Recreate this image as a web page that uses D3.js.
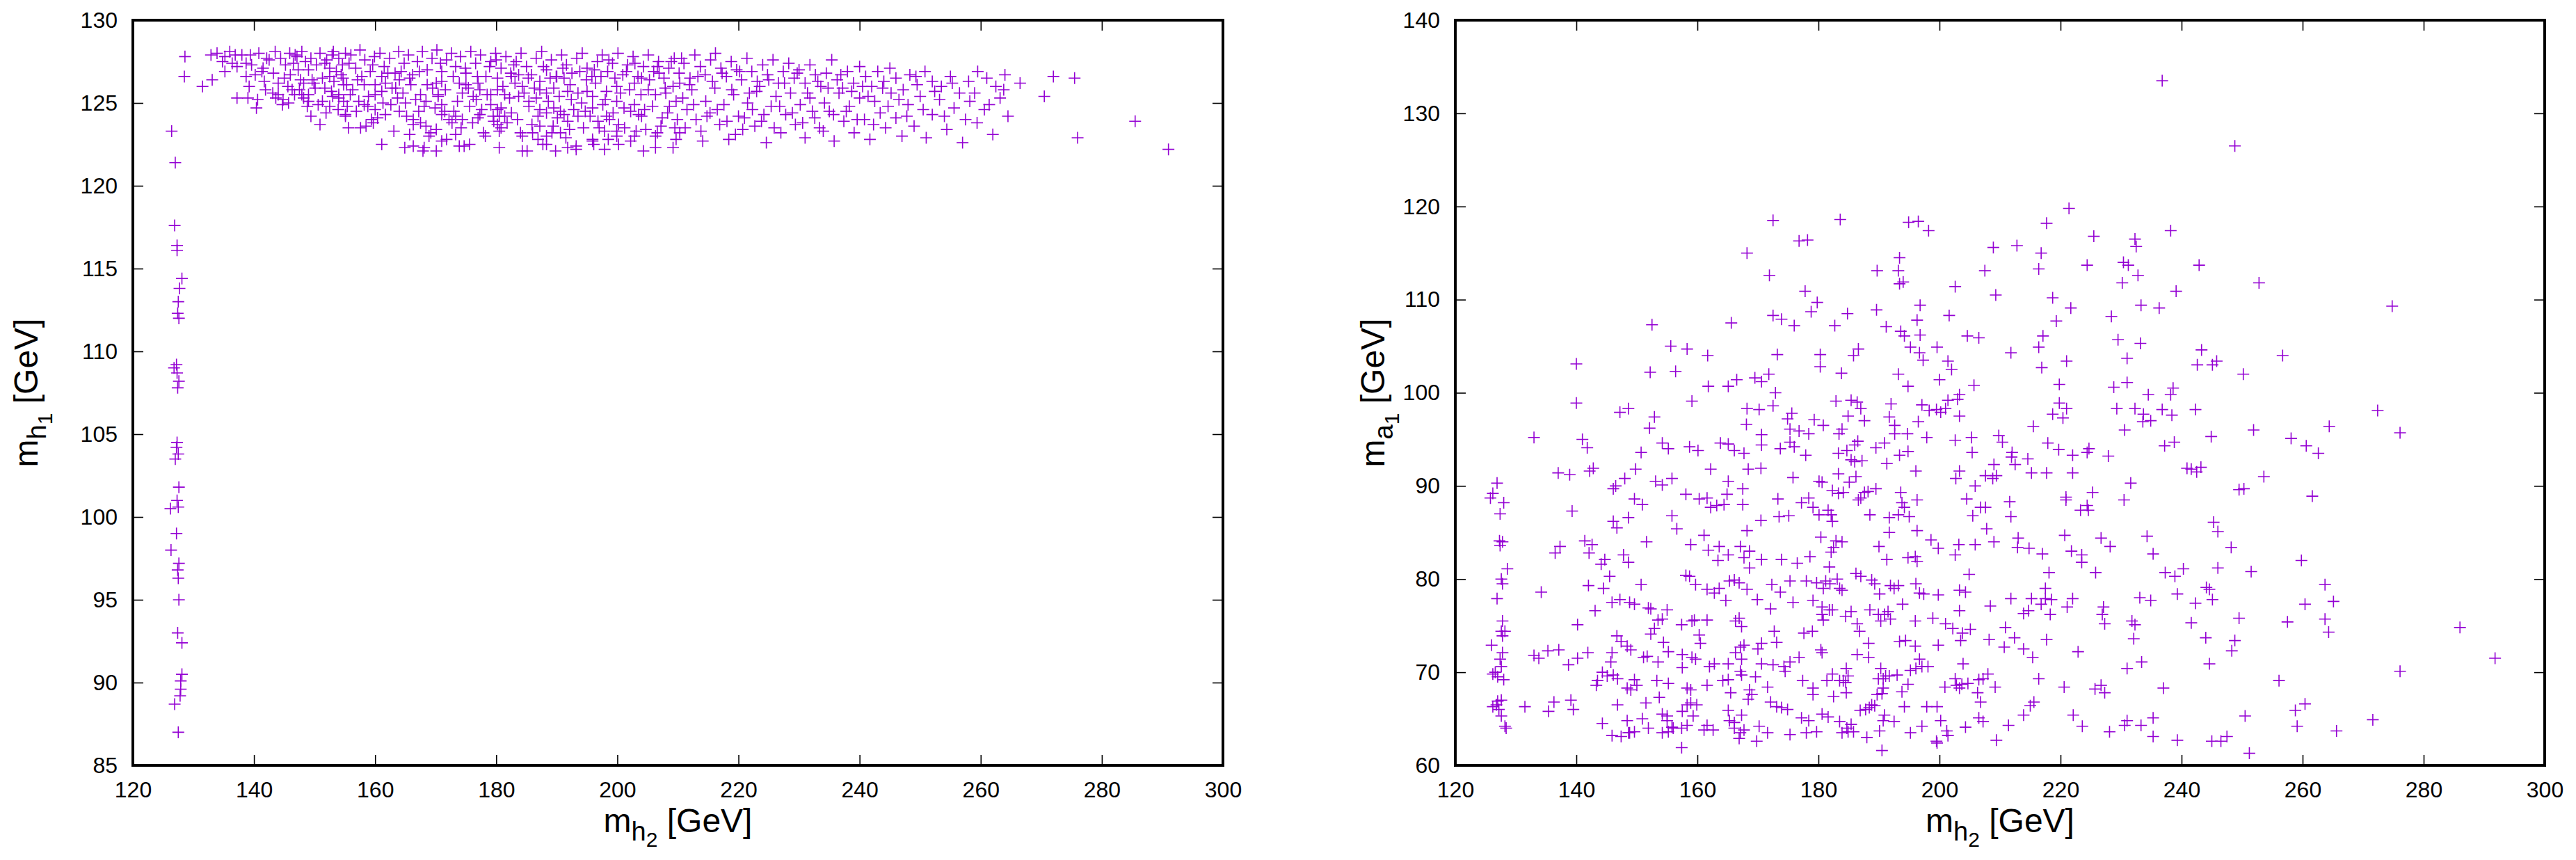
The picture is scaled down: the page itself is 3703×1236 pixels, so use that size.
<!DOCTYPE html>
<html>
<head>
<meta charset="utf-8">
<title>mh1 / ma1 vs mh2</title>
<script src="https://cdn.jsdelivr.net/npm/d3@7"></script>
<style>
body { margin: 0; background: #fff; }
svg text { font-family: "Liberation Sans", Arial, Helvetica, sans-serif; }
</style>
</head>
<body>
<script>
// ---- data ----
var xTicks = [120, 140, 160, 180, 200, 220, 240, 260, 280, 300];
var leftYTicks = [85, 90, 95, 100, 105, 110, 115, 120, 125, 130];
var rightYTicks = [60, 70, 80, 90, 100, 110, 120, 130, 140];

// left panel: m_h2 vs m_h1, the vertical strip near 127 GeV
var leftStrip = [[126.4,123.3],[127.0,121.4],[126.9,117.6],[127.3,116.4],[127.3,116.1],[128.1,114.4],[127.7,113.8],[127.5,113.0],[127.4,112.3],[127.6,112.0],[127.2,109.2],[126.8,109.0],[127.3,108.7],[127.6,108.2],[127.4,107.8],[127.3,104.5],[127.2,104.2],[127.5,103.8],[127.0,103.5],[127.6,101.8],[127.3,101.0],[126.2,100.5],[127.5,100.6],[127.2,99.0],[126.3,98.0],[127.6,97.2],[127.4,96.8],[127.5,96.3],[127.6,95.0],[127.4,93.0],[128.1,92.4],[128.1,90.5],[127.9,90.1],[127.9,89.6],[127.8,89.2],[126.9,88.7],[127.5,87.0]];

// left panel: the band at 122-128 GeV
var leftBand = [[128.6,127.8],[128.5,126.6],[131.5,126.0],[133.1,126.4],[132.9,127.9],[133.9,128.0],[135.2,127.8],[136.9,127.9],[136.4,127.4],[137.2,127.2],[135.2,126.9],[139.4,127.9],[138.7,127.4],[139.6,127.3],[137.2,125.3],[139.0,125.3],[140.4,124.7],[140.6,125.2],[138.7,126.6],[139.2,126.0],[140.2,126.7],[141.3,126.9],[142.1,127.7],[142.5,127.6],[141.7,126.3],[141.9,125.8],[143.1,125.6],[144.0,125.5],[143.6,125.3],[144.8,125.2],[145.7,125.0],[144.4,127.7],[145.9,128.0],[147.1,127.8],[147.9,128.1],[145.2,127.3],[146.5,127.4],[147.3,127.0],[145.0,126.5],[144.0,126.2],[145.6,126.0],[146.3,125.8],[147.5,125.8],[146.7,125.5],[147.9,125.5],[148.2,125.3],[149.0,125.5],[149.0,125.1],[148.8,124.8],[149.4,124.2],[150.9,123.7],[148.2,126.2],[149.6,126.4],[149.0,127.0],[149.4,127.7],[150.9,128.0],[150.3,127.3],[151.7,127.4],[152.5,127.1],[153.6,126.9],[151.3,126.5],[152.5,126.6],[153.2,126.3],[154.4,126.7],[151.7,125.9],[152.8,125.7],[154.0,125.5],[154.8,126.1],[151.3,125.1],[152.5,124.8],[154.0,125.3],[154.8,125.1],[155.1,124.2],[154.0,127.7],[155.1,128.0],
[155.1,124.3],[155.6,123.5],[157.6,123.5],[158.5,123.6],[159.4,124.0],[159.7,123.8],[161.1,122.5],[164.9,122.3],[166.3,122.4],[168.1,122.3],[167.9,122.1],[170.1,122.1],[173.9,122.4],[174.7,122.4],[175.6,122.5],[180.5,122.3],[184.3,122.1],[185.1,122.1],[188.3,122.5],[189.8,122.1],[191.8,122.3],[193.2,122.4],[193.2,122.2],[195.9,122.7],[196.1,122.5],[197.9,122.2],[200.2,122.5],[202.2,122.7],[204.3,122.1],[206.3,122.3],[209.2,122.3],[209.5,123.5],[207.4,124.1],[206.6,123.2],[206.3,123.0],[203.1,123.3],[202.8,123.0],[200.2,123.7],[199.9,123.3],[197.0,123.5],[197.9,123.3],[195.9,122.8],[199.9,123.0],[198.5,122.8],[190.6,123.2],[189.2,123.2],[192.1,123.4],[186.9,122.8],[188.3,123.0],[187.7,122.5],[186.0,123.2],[187.2,123.6],[184.0,123.2],[184.3,123.0],[180.2,123.7],[180.8,123.5],[180.5,123.3],[177.9,123.2],[178.2,123.0],[179.6,123.9],[180.5,124.2],[177.0,124.1],[177.3,124.3],[174.4,124.0],[172.7,123.8],[173.3,123.1],[171.8,122.8],[171.0,122.7],[169.2,123.2],[170.1,123.4],[167.5,123.8],[168.4,123.6],[166.3,123.7],[165.7,123.1],[165.2,124.2],[166.3,124.0],[164.0,124.5],[161.7,124.3],[158.8,124.8],[160.0,124.6],[157.3,125.1],[158.2,124.9],[155.4,124.8],[160.0,125.5],[161.1,125.7],[161.7,126.2],[162.8,125.9],[158.2,126.1],[160.0,126.1],[155.3,126.1],[155.9,125.5],[154.7,126.5],[161.1,126.6],[164.0,126.4],[165.7,126.5],[164.6,125.6],[163.4,125.9],[167.5,125.5],[168.4,125.1],[168.1,124.8],[167.2,124.5],[168.6,126.1],[170.1,126.2],[171.0,126.3],[170.4,125.5],[170.4,125.4],[171.0,124.9],[171.5,124.5],[171.0,124.3],[173.0,124.5],[173.3,124.2],[174.4,125.6],[176.2,125.4],[175.6,124.8],[176.7,125.2],[177.3,125.8],[177.0,126.2],[173.9,126.2],[175.0,126.1],[179.1,124.9],[180.2,124.6],[180.8,124.7],[181.4,124.2],[182.5,124.4],[179.1,125.5],[180.2,125.8],[181.4,125.5],[180.2,126.5],[182.5,126.6],[183.7,126.7],[183.1,126.2],[184.3,126.0],[183.7,125.4],[185.4,125.1],[186.6,125.3],[185.4,124.8],[187.2,124.6],[188.3,124.4],[189.5,124.7],[190.6,124.5],[191.2,124.3],[190.1,124.1],[191.8,123.9],[193.5,124.2],[194.7,124.5],[195.9,124.7],[187.2,125.8],[188.3,125.6],[189.5,125.9],[187.2,126.3],[188.9,126.5],[191.2,126.5],[191.8,125.7],[193.5,125.6],[195.0,125.7],[192.4,125.2],[194.1,125.0],[195.9,125.4],[196.4,126.2],[198.2,125.7],[199.9,126.0],[197.6,124.9],[199.9,125.1],[201.1,124.7],[202.2,124.5],[198.2,124.2],[198.7,124.0],[202.8,124.9],[204.5,124.6],[204.0,124.2],[202.8,126.2],[204.0,126.5],[205.1,125.8],[206.9,126.8],[206.3,125.5],[208.0,125.6],[209.7,125.1],[208.6,124.8],[209.2,126.0],[210.3,126.2],[209.7,122.8],[210.3,123.2],
[152.0,127.6],[153.1,128.1],[154.6,127.3],[156.0,127.9],[156.8,127.1],[157.5,128.2],[158.3,127.6],[159.2,126.9],[159.9,127.8],[160.8,128.0],[161.5,127.2],[162.4,127.7],[163.3,126.8],[163.9,128.1],[164.8,127.4],[165.5,127.9],[166.2,126.7],[167.0,127.5],[167.8,128.1],[168.6,127.0],[169.4,127.7],[170.2,128.2],[171.0,126.9],[171.8,127.6],[172.6,128.0],[173.3,127.2],[174.1,127.8],[175.0,126.8],[175.8,128.1],[176.6,127.4],[177.4,127.9],[178.3,126.6],[179.1,127.5],[179.9,128.0],[180.8,127.1],[181.6,127.8],[182.4,126.8],[183.3,127.5],[184.1,128.0],[185.0,127.2],[185.8,126.7],[186.6,127.7],[187.5,128.1],[188.3,127.0],[189.1,127.6],[190.0,126.6],[190.8,127.9],[191.6,127.3],[192.5,126.8],[193.3,127.7],[194.2,128.0],[195.0,127.1],[195.8,126.6],[196.7,127.5],[197.5,127.9],[198.4,126.9],[199.2,127.4],[200.1,128.0],[200.9,126.7],[201.7,127.3],[202.6,127.8],[203.4,126.6],[204.3,127.2],[205.1,127.9],[206.0,126.9],[206.8,127.5],[207.7,126.5],[208.5,127.1],[209.4,127.7],[210.2,126.8],[211.0,127.4],[212.0,126.5],[212.8,127.9],[213.7,127.2],[214.5,126.7],[215.4,127.6],[216.2,128.0],[217.1,127.1],[218.0,126.6],[218.8,127.5],[219.7,127.0],[220.5,126.4],[221.4,127.7],[222.2,126.9],[223.1,126.3],[224.0,127.3],[224.8,126.7],[225.7,127.6],[226.6,126.2],[227.4,126.9],[228.3,127.4],[229.2,126.5],[230.0,127.0],[231.0,126.2],[231.8,127.3],[232.7,126.7],[233.6,126.0],[234.5,126.8],[235.4,127.6],[236.3,126.4],[237.2,125.9],[238.0,126.9],[239.0,126.2],[240.0,127.2],[241.0,126.6],[242.0,126.0],[243.0,126.9],[244.0,126.3],[245.0,127.1],[246.0,126.5],[247.2,125.8],[248.3,126.7],[249.5,126.1],[250.8,126.9],[252.0,126.3],[253.5,126.0],[255.0,126.6],[256.5,125.6],[258.0,126.3],[259.5,126.9],[261.0,126.5],[262.5,126.0],[264.0,126.7],
[210.8,125.3],[211.5,124.6],[212.3,125.8],[213.0,124.0],[213.8,123.3],[214.6,125.1],[215.3,124.4],[216.1,125.9],[216.9,123.7],[217.6,124.9],[218.4,122.8],[219.2,125.5],[220.0,124.2],[220.7,123.4],[221.5,125.0],[222.3,124.6],[223.0,125.7],[223.8,123.9],[224.6,122.6],[225.4,124.8],[226.2,125.4],[227.0,123.2],[227.8,124.3],[228.6,125.6],[229.4,123.7],[230.2,124.9],[231.0,122.9],[231.8,125.3],[232.6,124.1],[233.4,123.5],[234.2,125.0],[235.0,124.5],[235.8,122.7],[236.6,125.6],[237.4,123.9],[238.3,124.8],[239.1,123.2],[240.0,125.3],[240.8,124.0],[241.7,122.8],[242.5,125.1],[243.4,124.4],[244.3,123.5],[245.2,125.6],[246.0,124.1],[247.0,123.0],[248.0,124.9],[249.0,123.6],[250.0,125.4],[251.0,122.9],[252.0,124.3],[253.2,125.2],[254.4,123.4],[255.6,124.7],[257.0,122.6],[258.2,125.1],[259.4,123.8],[260.6,124.6],[262.0,123.1],[263.2,125.3],[264.5,124.2],
[266.5,126.2],[270.5,125.4],[272.0,126.6],[275.5,126.5],[276.0,122.9],[285.5,123.9],[291.0,122.2]];

// left panel: more of the dense band core, estimated where crosses overlap
var leftBandCore = [[134.8,127.5],[136.0,128.1],[138.0,127.9],[140.8,128.0],[143.5,128.1],[146.8,127.9],[149.9,126.2],[152.9,127.9],[155.7,127.4],[157.1,126.4],
[141.5,127.1],[143.2,126.8],[144.7,124.9],[146.0,126.7],[147.7,126.4],[148.5,127.5],[150.1,125.9],[150.6,124.9],[151.9,124.4],[153.0,125.4],[153.9,124.6],[156.3,125.8],[156.9,124.5],[157.8,126.6],[158.9,125.4],[159.6,127.3],[160.4,124.1],[161.3,125.0],[162.1,126.8],[162.6,124.9],[163.1,123.3],[163.7,125.3],[164.3,126.9],[165.0,125.0],[165.9,126.1],[166.7,125.2],[167.3,126.9],[168.9,123.0],[169.5,125.9],[169.9,124.7],[170.8,127.4],[171.6,125.8],[172.2,124.0],[172.9,126.6],[173.6,125.1],[174.2,123.5],[174.9,127.1],[175.4,125.9],[176.1,123.8],[176.9,126.6],[177.6,124.6],[178.5,125.5],[178.9,127.2],[179.5,124.2],[180.0,127.6],[181.1,126.0],[181.8,123.8],[182.2,125.3],[182.9,127.3],[183.5,124.0],[184.6,125.6],[185.3,126.5],[185.9,123.7],[186.3,125.9],[186.9,124.2],[187.8,127.2],[188.6,125.1],[189.4,123.6],[189.9,126.6],[190.4,125.4],[191.0,127.1],[191.5,122.9],[192.2,126.1],[192.8,124.6],[193.8,126.9],[194.4,123.5],[194.9,126.4],[195.5,124.2],[196.2,127.0],[196.8,123.9],[197.3,126.6],[198.0,125.2],[198.6,127.6],[199.3,124.4],[199.6,126.5],[200.5,125.6],[201.2,123.5],[201.5,126.9],[202.0,125.8],[202.9,127.4],[203.5,124.3],[203.9,125.5],[204.7,123.4],[205.3,126.4],[205.8,124.8],[206.6,127.2],[207.2,123.6],[207.9,125.9],[208.3,124.4],[208.9,127.5],[209.9,124.0],[210.6,127.7],[211.2,123.5],[211.9,126.1],[212.6,124.9],[213.3,126.6],[214.1,122.7],[214.8,124.2],[215.7,126.3],[216.5,124.6],[217.3,126.8],[218.1,123.9],[218.9,125.8],[219.5,123.1],[220.2,126.9],[221.0,124.1],[221.8,125.6],[222.7,123.6],[223.5,126.0],[224.2,124.3],[225.0,126.4],[225.9,123.5],[226.8,124.8],[227.6,126.2],[228.9,124.4],[229.7,126.8],[230.6,123.8],[231.4,125.6],[232.2,124.5],[233.1,126.3],[234.0,123.3],[234.8,125.9],[235.7,124.3],[236.9,126.7],[237.8,124.5],[238.7,125.7],[239.6,124.0],[240.5,126.0],[241.4,125.4],[242.3,123.7],[243.8,125.9],[244.7,124.8],[246.5,125.2],[247.8,124.2],[249.3,126.6],[250.5,124.6],[252.4,125.7],[254.0,124.2],[255.3,126.2],[257.5,124.0],[259.0,125.6],[261.4,124.9],[263.8,125.8]];

// right panel: m_h2 vs m_a1, split by m_h2 range
var rightLow = [[172.5,118.5],[176.8,116.3],[178.2,116.4],[168.2,115.0],[171.9,112.6],[177.8,110.9],[179.8,109.7],[178.8,108.7],[172.5,108.3],[173.9,107.9],[176.0,107.2],[165.6,107.5],[152.5,107.3],[155.6,105.0],[158.3,104.7],[161.7,104.0],[173.2,104.1],[180.3,104.1],[180.3,102.8],[140.0,103.1],[152.2,102.2],[156.4,102.3],[161.8,100.7],[165.1,100.7],[166.5,101.4],[169.5,101.6],[170.6,101.2],[171.8,102.0],[172.9,100.0],[159.1,99.1],[140.0,98.9],[147.2,97.9],[148.6,98.3],[152.9,97.4],[152.1,96.2],[168.2,98.3],[170.2,98.2],[172.5,98.6],[168.1,96.6],[170.6,95.5],[175.6,97.8],[174.9,97.2],[175.3,96.1],[176.8,95.9],[178.4,95.6],[179.3,97.1],
[133.0,95.2],[141.0,95.0],[141.8,94.1],[150.7,93.6],[154.2,94.6],[155.2,94.0],[158.7,94.2],[160.1,93.8],[163.8,94.6],[165.1,94.5],[166.1,93.8],[167.7,93.5],[170.6,94.4],[173.7,94.0],[175.3,94.7],[176.0,94.2],[177.9,93.3],[137.0,91.4],[138.9,91.2],[142.2,91.6],[142.8,91.9],[149.8,91.8],[162.2,91.8],[168.4,91.8],[170.5,91.9],[175.8,90.9],[126.9,90.3],[126.2,89.2],[125.8,88.7],[128.0,88.2],[127.4,87.0],[146.1,89.7],[146.5,90.0],[148.0,90.8],[153.1,90.5],[154.2,90.1],[155.8,90.8],[149.6,88.6],[150.9,88.0],[158.1,89.1],[160.3,88.6],[161.6,88.7],[162.2,87.7],[163.2,87.9],[164.4,88.0],[164.9,89.1],[165.1,90.5],[167.5,89.7],[167.5,88.0],[173.3,88.6],[177.2,88.2],[178.4,88.7],[179.1,87.7],[180.1,90.5],[139.3,87.3],[155.8,86.8],[156.6,85.4],[173.5,86.7],[175.1,86.8],[170.5,86.3],[180.1,86.9],
[146.1,86.2],[146.7,85.5],[148.6,86.6],[127.3,84.1],[127.4,83.6],[127.8,84.0],[137.3,83.5],[136.5,82.8],[141.4,84.1],[142.6,83.7],[142.1,82.8],[151.6,84.0],[144.7,82.1],[144.1,81.6],[147.8,82.6],[148.6,81.8],[158.9,83.7],[161.1,84.7],[161.8,83.1],[163.6,83.5],[165.1,82.6],[163.4,82.0],[167.1,83.5],[167.7,82.3],[168.6,83.0],[168.2,85.2],[168.6,81.2],[170.6,82.1],[173.9,82.1],[176.5,81.7],[178.6,82.4],[128.6,81.1],[127.6,80.0],[127.8,79.5],[145.5,80.3],[144.5,79.0],[142.0,79.3],[150.7,79.4],[158.1,80.4],[158.7,80.3],[159.7,79.4],[161.6,78.9],[162.8,78.5],[163.6,79.0],[165.3,79.8],[166.1,79.9],[166.9,79.6],[168.2,78.9],[164.7,77.7],[172.3,79.4],[173.7,78.6],[175.3,79.8],[178.0,79.8],[179.7,79.6],[134.2,78.6],[126.9,77.9],[143.1,76.6],[145.9,77.5],[147.2,77.8],[148.8,77.5],[149.6,77.3],[151.9,76.9],[152.3,76.8],[155.0,76.7],[169.9,77.8],[172.1,76.8],[175.8,77.5],[179.1,77.7],
[127.8,75.5],[127.6,74.4],[128.2,74.4],[127.8,73.9],[140.2,75.1],[153.5,75.6],[154.2,75.7],[152.9,74.7],[152.3,74.1],[157.4,75.1],[159.1,75.5],[159.5,75.6],[161.6,75.6],[166.3,75.5],[166.9,75.8],[167.3,74.9],[160.3,74.0],[146.7,73.9],[147.4,73.3],[148.4,72.8],[149.0,72.4],[154.4,73.2],[160.5,73.1],[172.7,74.4],[173.1,73.2],[177.6,74.2],[179.0,74.4],[126.0,72.9],[127.8,72.1],[127.4,71.4],[127.6,70.6],[126.6,70.0],[126.2,69.8],[127.0,69.5],[128.0,69.2],[133.0,71.8],[133.8,71.5],[135.3,72.3],[137.1,72.4],[138.7,70.8],[140.2,71.5],[141.9,72.1],[145.9,72.1],[145.7,71.1],[151.7,71.7],[151.1,71.6],[155.2,72.2],[157.5,71.9],[159.1,71.6],[159.7,71.4],[153.5,71.1],[162.0,70.6],[162.8,70.9],[165.1,70.9],[166.3,72.1],[167.1,72.7],[167.7,72.9],[167.3,71.4],[170.0,72.5],[170.6,73.1],[170.6,70.9],[172.5,70.8],[174.3,70.6],[174.5,70.1],[175.3,71.1],[176.8,71.6],[167.1,70.1],[167.3,69.7],[169.6,69.5],[165.1,69.2],[164.2,69.1],[144.3,70.0],[143.5,69.1],[143.3,68.6],[145.1,69.6],[146.1,69.7],[146.8,69.3],[149.6,69.2],[150.0,68.6],[153.3,69.1],[155.2,68.8],[148.4,68.3],[149.0,68.1],[157.5,70.5],[177.4,69.1],[179.1,68.3],[179.1,67.6],[161.6,68.6],[165.5,67.8],[168.6,68.1],[169.0,67.6],[168.4,67.1],[171.6,68.4],[158.3,68.3],[158.9,68.1],[153.7,67.3],
[126.2,66.3],[127.0,66.9],[127.6,67.0],[126.8,66.5],[127.2,66.0],[131.5,66.3],[136.3,66.8],[135.4,65.8],[139.1,67.0],[139.5,66.0],[146.8,66.5],[151.5,66.7],[158.3,66.5],[158.9,66.7],[159.9,66.5],[157.5,65.8],[159.3,65.3],[154.2,65.5],[155.0,65.3],[155.0,64.8],[155.8,64.1],[165.1,65.9],[167.3,65.4],[165.3,64.8],[166.1,64.6],[172.1,66.8],[173.1,66.3],[173.9,66.2],[174.9,66.0],[177.2,65.1],[178.4,64.8],[127.6,65.3],[128.2,64.2],[128.4,64.0],[144.3,64.5],[148.4,64.8],[148.8,63.5],[150.9,65.0],[151.9,64.0],[145.9,63.2],[147.4,63.1],[148.6,63.5],[149.6,63.6],[154.2,63.5],[155.2,63.6],[156.0,64.0],[157.4,64.0],[158.3,64.3],[157.4,61.9],[161.1,63.8],[161.6,64.3],[162.6,63.8],[166.1,64.0],[167.1,63.5],[167.7,63.8],[166.9,62.9],[169.8,62.6],[170.2,64.2],[171.6,63.5],[175.3,63.3],[178.0,63.5],[179.7,63.6]];

var rightMid = [[236.8,133.5],[221.4,119.8],[183.6,118.6],[194.9,118.3],[196.5,118.4],[198.2,117.4],[217.7,118.2],[225.5,116.8],[232.3,116.5],[232.5,115.7],[238.2,117.4],[208.9,115.6],[212.8,115.8],[216.8,115.0],[193.4,114.5],[189.7,113.1],[193.2,113.1],[193.4,111.7],[194.0,111.9],[207.5,113.1],[216.4,113.3],[224.4,113.7],[230.4,114.0],[231.2,113.7],[230.2,111.8],[232.8,112.6],[202.6,111.4],[209.3,110.5],[218.7,110.2],[221.7,109.1],[239.1,110.9],[233.3,109.4],[236.3,109.1],[219.3,107.7],[228.4,108.2],[184.8,108.5],[189.6,108.9],[196.8,109.4],[196.3,107.8],[201.6,108.3],[182.7,107.2],[191.2,107.1],[193.6,106.6],[194.2,106.1],[196.8,106.2],[204.6,106.1],[206.5,105.9],[217.1,106.1],[216.4,104.9],[229.5,105.7],[233.2,105.3],[186.6,104.7],[185.8,104.0],[195.2,104.9],[196.7,104.3],[197.3,103.5],[199.6,104.9],[201.4,103.4],[202.0,102.5],[211.8,104.3],[221.0,103.4],[231.0,103.7],[216.9,102.7],[183.8,102.1],[193.2,102.0],[194.8,100.7],[200.0,101.4],[205.7,100.8],[219.8,100.9],[228.8,100.6],[231.0,101.1],[234.5,99.8],[238.2,99.8],[238.6,100.5],
[182.9,99.1],[185.4,99.2],[186.4,99.0],[187.0,98.3],[184.9,97.5],[187.6,97.0],[192.0,98.8],[191.7,97.4],[192.6,96.5],[192.6,95.6],[180.8,96.5],[197.1,98.7],[196.5,96.9],[198.3,98.1],[199.5,98.2],[200.2,97.9],[201.0,98.3],[201.4,99.2],[203.0,99.3],[203.3,99.8],[203.3,97.5],[219.8,98.9],[221.0,98.3],[218.7,97.7],[220.4,97.3],[215.5,96.4],[229.3,98.3],[232.3,98.3],[233.7,97.7],[233.6,96.9],[234.9,97.0],[236.8,98.2],[238.4,97.6],[230.6,96.0],[183.9,96.1],[183.4,95.6],[194.7,95.6],[197.9,95.2],[202.6,94.9],[205.3,95.2],[209.8,95.4],[210.4,94.7],[212.0,93.6],[211.9,93.1],[212.5,92.3],[214.6,92.9],[217.9,94.6],[219.7,93.9],[222.0,93.3],[224.7,94.0],[224.4,93.6],[227.9,93.2],[237.2,94.3],[238.8,94.7],[186.5,94.8],[186.0,94.4],[183.3,93.5],[184.7,93.8],[189.5,94.1],[190.9,94.6],[193.4,93.3],[194.8,93.7],[186.0,92.6],[185.4,92.8],[187.2,92.7],[191.3,92.4],[205.4,93.6],[209.0,92.3],[209.4,91.1],[207.6,91.1],[208.8,90.8],[215.2,91.4],[217.7,91.4],[222.0,91.4],[183.3,91.3],[186.2,91.0],[180.6,90.4],[185.1,90.4],[196.1,91.6],[203.3,91.6],[202.7,90.8],[205.9,90.0],[240.9,91.9],[231.6,90.3],[225.3,89.3],[230.5,88.5],[220.9,88.8],[220.9,88.5],[223.3,87.4],[224.4,87.9],[224.6,87.4],[211.6,88.3],[204.5,88.6],[206.8,87.7],[207.6,87.7],[205.5,86.8],[211.8,86.7],
[182.3,89.5],[183.3,89.2],[184.1,89.3],[187.0,88.7],[187.6,89.3],[188.2,89.4],[189.5,89.7],[186.6,88.5],[193.6,89.3],[193.8,88.2],[194.2,87.7],[196.3,88.5],[181.6,87.4],[182.1,86.9],[182.3,86.2],[188.5,86.9],[191.7,86.6],[193.2,86.9],[195.0,86.7],[183.9,84.0],[182.9,84.1],[180.4,84.5],[191.7,85.0],[196.3,85.2],[198.6,84.2],[199.8,83.3],[203.2,83.7],[202.6,82.6],[205.9,83.7],[207.8,85.4],[209.0,84.0],[213.0,84.4],[212.9,83.4],[214.8,83.3],[217.0,82.7],[220.7,84.7],[221.8,83.0],[223.5,82.6],[223.5,81.8],[226.7,84.4],[228.2,83.5],[234.3,84.6],[235.3,82.7],[190.0,83.5],[191.3,82.1],[182.1,82.9],[182.5,83.4],[181.8,81.3],[194.8,82.3],[196.0,82.4],[196.3,81.9],[204.9,80.5],[218.1,80.7],[225.8,80.7],[237.3,80.7],[238.9,80.3],[240.3,81.1],[186.2,80.6],[187.0,80.3],[188.8,79.9],[189.3,79.5],[181.2,79.8],[181.9,79.5],[183.1,80.0],[183.9,78.8],[183.5,79.0],[180.8,79.0],[191.9,79.3],[192.5,79.0],[193.2,79.3],[196.1,79.5],[197.4,78.4],[196.7,78.5],[190.1,78.4],[199.8,78.3],[203.3,78.8],[204.3,78.6],[217.5,79.0],
[180.6,77.0],[180.6,76.2],[180.8,75.6],[181.8,76.7],[182.3,76.7],[184.5,76.0],[185.4,76.5],[186.4,75.2],[186.8,74.4],[188.5,76.7],[189.9,76.2],[190.9,76.2],[191.5,76.5],[191.9,75.7],[190.3,75.5],[193.9,77.3],[196.0,75.5],[198.9,75.8],[201.0,75.2],[202.2,74.7],[203.3,76.6],[203.8,74.2],[203.5,73.4],[205.1,74.6],[208.4,77.1],[211.8,77.9],[210.9,74.8],[212.4,73.7],[213.9,76.3],[214.7,76.6],[215.2,77.9],[216.8,77.3],[217.5,77.9],[218.5,77.8],[218.3,76.2],[221.1,77.0],[222.0,77.9],[227.1,77.0],[226.9,76.2],[227.3,75.2],[231.8,75.5],[232.3,75.1],[233.1,78.0],[234.9,77.7],[239.3,78.4],[232.1,73.6],[217.7,73.5],[213.9,72.5],[215.4,71.6],[222.9,72.2],[208.2,73.5],[210.7,72.7],[196.0,72.8],[199.8,72.9],[193.4,73.3],[194.4,73.4],[188.3,73.1],[188.3,71.6],[186.4,71.9],[180.4,72.4],[180.6,72.1],[203.9,70.9],[196.7,71.4],[197.1,70.6],[198.1,70.6],[196.1,70.4],[195.2,70.2],[190.3,70.4],[190.7,69.3],[191.1,69.6],[191.7,69.6],[189.9,69.3],[193.0,69.7],[184.6,70.4],[184.9,69.6],[184.1,69.1],[183.5,69.1],[184.5,68.9],[182.3,69.8],[181.4,69.1],[190.7,68.3],[190.5,67.7],[189.7,67.6],[193.8,67.9],[194.8,68.7],[200.9,68.4],[202.6,69.3],[202.8,68.6],[203.3,68.3],[203.7,68.7],[204.7,68.8],[206.5,69.2],[207.2,69.3],[206.3,67.8],[209.2,68.4],[208.0,69.8],[216.4,69.3],[220.6,68.4],[225.7,68.2],[226.7,68.6],[227.3,67.8],[231.0,70.4],[233.4,71.1],[237.0,68.3],
[182.5,67.4],[184.6,67.8],[188.8,66.5],[189.3,66.4],[190.9,65.4],[190.7,64.8],[190.1,63.7],[186.9,65.9],[187.8,66.0],[188.4,66.2],[180.6,65.5],[181.6,65.2],[183.5,64.7],[185.4,64.4],[184.7,64.0],[184.9,63.6],[185.8,63.6],[183.9,63.5],[188.0,63.0],[190.5,61.6],[192.5,64.7],[194.2,66.3],[195.2,63.5],[197.1,64.2],[197.9,66.3],[199.6,66.3],[200.2,64.8],[201.2,63.7],[201.4,63.2],[199.5,62.6],[199.6,62.4],[204.3,64.1],[206.5,65.1],[207.2,64.7],[206.8,66.8],[209.4,62.7],[211.4,64.3],[213.9,65.4],[215.0,66.4],[215.6,66.8],[222.1,65.4],[223.6,64.2],[228.1,63.6],[230.6,64.3],[231.0,64.8],[233.3,64.3],[235.3,65.1],[235.3,63.1],[239.3,62.7]];

var rightHigh = [[248.8,126.5],[242.9,113.7],[252.8,111.8],[274.8,109.3],[243.3,104.6],[242.6,103.0],[245.1,103.0],[245.8,103.4],[250.2,102.0],[256.7,104.0],[242.3,98.2],[244.9,95.3],[251.9,96.0],[258.1,95.1],[260.6,94.3],[262.6,93.5],[264.4,96.4],[272.4,98.1],[276.1,95.7],[241.6,91.8],[242.5,91.5],[243.2,92.0],[253.6,91.0],[249.5,89.6],[250.3,89.7],[261.6,88.9],[245.3,86.1],[246.0,85.1],[248.2,83.4],[259.8,82.0],[246.0,81.2],[251.5,80.8],[244.1,79.1],[244.6,78.9],[242.3,77.4],[245.1,77.8],[263.7,79.4],[265.1,77.6],[260.4,77.3],[249.5,75.8],[241.6,75.3],[257.5,75.4],[263.7,75.7],[264.3,74.3],[286.0,74.8],[244.0,73.7],[248.8,73.4],[248.3,72.3],[291.8,71.5],[244.6,70.9],[276.1,70.1],[256.1,69.1],[260.4,66.6],[258.8,65.9],[250.5,65.3],[259.1,64.2],[271.6,64.9],[265.6,63.7],[245.0,62.6],[246.5,62.6],[247.5,63.1],[251.2,61.3]];

// ---- drawing ----
var W = 3703, H = 1236;
var purple = '#9400d3';
var svg = d3.select('body').append('svg').attr('width', W).attr('height', H);

function drawPanel(p) {
    var x = d3.scaleLinear().domain([120, 300]).range([p.x0, p.x1]);
    var y = d3.scaleLinear().domain(p.yDomain).range([p.y1, p.y0]);
    var g = svg.append('g');

    var axes = [
        { gen: d3.axisBottom(x).tickValues(xTicks), t: [0, p.y1], labels: true },
        { gen: d3.axisTop(x).tickValues(xTicks), t: [0, p.y0], labels: false },
        { gen: d3.axisLeft(y).tickValues(p.yTicks), t: [p.x0, 0], labels: true },
        { gen: d3.axisRight(y).tickValues(p.yTicks), t: [p.x1, 0], labels: false }
    ];
    axes.forEach(function(a) {
        a.gen.tickSizeInner(-15).tickSizeOuter(0).tickPadding(a.t[1] === p.y1 ? 23 : 22);
        if (!a.labels) a.gen.tickFormat('');
        var ag = g.append('g')
            .attr('transform', 'translate(' + a.t[0] + ',' + a.t[1] + ')')
            .call(a.gen);
        ag.select('.domain').remove();
        ag.selectAll('.tick line').attr('stroke', '#000').attr('stroke-width', 1.6);
        ag.selectAll('.tick text')
            .attr('fill', '#000')
            .style('font-family', '"Liberation Sans", Arial, sans-serif')
            .style('font-size', '32px');
        ag.attr('font-size', null).attr('font-family', null);
    });

    // points (gnuplot style "+")
    g.append('g').selectAll('path')
        .data(p.points)
        .enter()
        .append('path')
        .attr('d', 'M-8.5,0H8.5M0,-8.5V8.5')
        .attr('transform', function(d) {
            return 'translate(' + x(d[0]) + ',' + y(d[1]) + ')';
        })
        .attr('fill', 'none')
        .attr('stroke', purple)
        .attr('stroke-width', 1.6);

    // border
    g.append('rect')
        .attr('x', p.x0).attr('y', p.y0)
        .attr('width', p.x1 - p.x0).attr('height', p.y1 - p.y0)
        .attr('fill', 'none')
        .attr('stroke', '#000')
        .attr('stroke-width', 4);

    // x label: m_{h_2} [GeV]
    var xl = g.append('text')
        .attr('x', (p.x0 + p.x1) / 2)
        .attr('y', 1196)
        .attr('text-anchor', 'middle')
        .style('font-size', '48px');
    subLabel(xl, 'h', '2');

    // y label
    var yl = g.append('text')
        .attr('transform', 'translate(' + p.ylabX + ',' + ((p.y0 + p.y1) / 2) + ') rotate(-90)')
        .attr('text-anchor', 'middle')
        .style('font-size', '48px');
    subLabel(yl, p.ySub, p.ySubSub);
}

function subLabel(t, sub, subsub) {
    t.append('tspan').text('m');
    t.append('tspan').attr('dy', 12).style('font-size', '38px').text(sub);
    t.append('tspan').attr('dy', 9).style('font-size', '30px').text(subsub);
    t.append('tspan').attr('dy', -21).style('font-size', '48px').text(' [GeV]');
}

drawPanel({
    x0: 191, x1: 1758, y0: 29, y1: 1100,
    yDomain: [85, 130], yTicks: leftYTicks,
    points: leftStrip.concat(leftBand, leftBandCore),
    ylabX: 54, ySub: 'h', ySubSub: '1'
});

drawPanel({
    x0: 2092, x1: 3658, y0: 29, y1: 1100,
    yDomain: [60, 140], yTicks: rightYTicks,
    points: rightLow.concat(rightMid, rightHigh),
    ylabX: 1990, ySub: 'a', ySubSub: '1'
});
</script>
</body>
</html>
